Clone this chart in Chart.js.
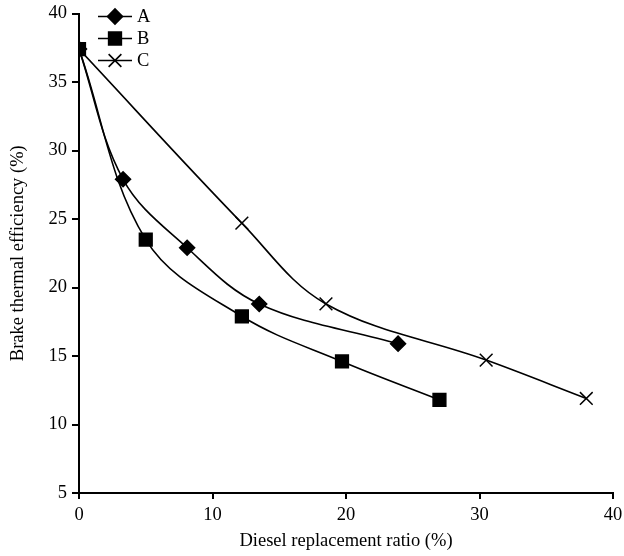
<!DOCTYPE html>
<html>
<head>
<meta charset="utf-8">
<script src="https://cdn.jsdelivr.net/npm/chart.js@4/dist/chart.umd.min.js"></script>
<style>
html,body{margin:0;padding:0;background:#fff;}
#wrap{width:624px;height:556px;position:relative;}
</style>
</head>
<body>
<div id="wrap"><canvas id="c" width="624" height="556"></canvas></div>
<script>
const seriesNames = ["A", "B", "C"];
const xA = [0, 3.3, 8.1, 13.5, 23.9];
const yA = [37.4, 27.9, 22.9, 18.8, 15.9];
const xB = [0, 5.0, 12.2, 19.7, 27.0];
const yB = [37.4, 23.5, 17.9, 14.6, 11.8];
const xC = [0, 12.2, 18.5, 30.5, 38.0];
const yC = [37.4, 24.7, 18.8, 14.7, 11.9];
const xTicks = [0, 10, 20, 30, 40];
const yTicks = [5, 10, 15, 20, 25, 30, 35, 40];
const xTitle = "Diesel replacement ratio (%)";
const yTitle = "Brake thermal efficiency (%)";

const FONT = "'Liberation Serif', 'Times New Roman', serif";
const FS = 18.5;
const pts = (xs, ys) => xs.map((x, i) => ({x: x, y: ys[i]}));
const styles = [
  {pointStyle: 'rectRot', pointRadius: 7.5},
  {pointStyle: 'rect', pointRadius: 9},
  {pointStyle: 'crossRot', pointRadius: 9}
];
const allData = [pts(xA, yA), pts(xB, yB), pts(xC, yC)];

const datasets = seriesNames.map((n, i) => ({
  label: n,
  data: allData[i],
  borderColor: '#000',
  backgroundColor: '#000',
  borderWidth: 1.6,
  pointStyle: styles[i].pointStyle,
  pointRadius: styles[i].pointRadius,
  pointBorderWidth: 1.5,
  pointBackgroundColor: '#000',
  pointBorderColor: '#000',
  tension: 0.36,
  fill: false
}));

const insideLegend = {
  id: 'insideLegend',
  afterDraw(chart) {
    const ctx = chart.ctx;
    ctx.save();
    chart.data.datasets.forEach((ds, i) => {
      const y = 16.5 + i * 22;
      const x0 = 98, x1 = 132, xm = 115;
      ctx.strokeStyle = '#000';
      ctx.lineWidth = 1.6;
      ctx.beginPath(); ctx.moveTo(x0, y); ctx.lineTo(x1, y); ctx.stroke();
      ctx.fillStyle = '#000';
      Chart.helpers.drawPoint(ctx, {pointStyle: ds.pointStyle, radius: ds.pointRadius, borderWidth: 1.5}, xm, y);
      ctx.font = FS + "px " + FONT;
      ctx.textBaseline = 'middle';
      ctx.textAlign = 'left';
      ctx.fillText(ds.label, 137, y + 1);
    });
    ctx.restore();
  }
};

new Chart(document.getElementById('c'), {
  type: 'line',
  data: {datasets: datasets},
  plugins: [insideLegend],
  options: {
    responsive: false,
    animation: false,
    devicePixelRatio: 1,
    layout: {padding: {left: 7, right: 11, top: 13.5, bottom: 0}},
    plugins: {legend: {display: false}, tooltip: {enabled: false}},
    scales: {
      x: {
        type: 'linear',
        min: 0, max: 40,
        afterBuildTicks: s => { s.ticks = xTicks.map(v => ({value: v})); },
        afterFit: s => { s.height = 63; s.paddingLeft = 0; s.paddingRight = 0; },
        border: {color: '#000', width: 2},
        grid: {display: true, drawOnChartArea: false, drawTicks: true, tickLength: 6, color: '#000', lineWidth: 2},
        ticks: {color: '#000', font: {family: FONT, size: FS}, padding: 5, maxRotation: 0},
        title: {display: true, text: xTitle, color: '#000', font: {family: FONT, size: FS}, padding: {top: 4, bottom: 4}}
      },
      y: {
        type: 'linear',
        min: 5, max: 40,
        afterBuildTicks: s => { s.ticks = yTicks.map(v => ({value: v})); },
        afterFit: s => { s.width = 72; s.paddingTop = 0; s.paddingBottom = 0; },
        border: {color: '#000', width: 2},
        grid: {display: true, drawOnChartArea: false, drawTicks: true, tickLength: 7, color: '#000', lineWidth: 2},
        ticks: {color: '#000', font: {family: FONT, size: FS}, padding: 5},
        title: {display: true, text: yTitle, color: '#000', font: {family: FONT, size: FS}, padding: {top: 0, bottom: 4}}
      }
    }
  }
});
</script>
</body>
</html>
